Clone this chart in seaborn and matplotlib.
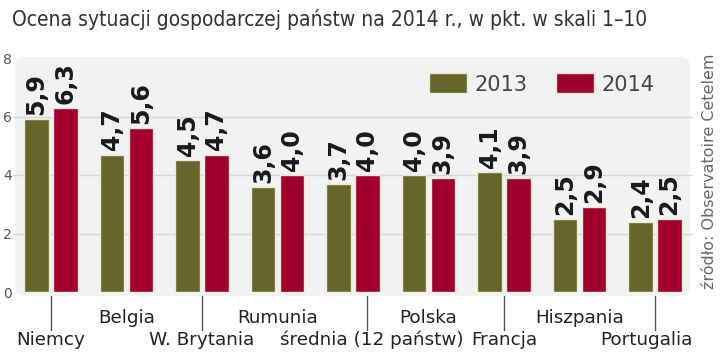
import pandas as pd
import matplotlib.pyplot as plt
import matplotlib.transforms as mtransforms
from matplotlib.patches import FancyBboxPatch
import seaborn as sns

categories = ['Niemcy', 'Belgia', 'W. Brytania', 'Rumunia', 'średnia (12 państw)',
              'Polska', 'Francja', 'Hiszpania', 'Portugalia']
years = ['2013', '2014']
v2013 = [5.9, 4.7, 4.5, 3.6, 3.7, 4.0, 4.1, 2.5, 2.4]
v2014 = [6.3, 5.6, 4.7, 4.0, 4.0, 3.9, 3.9, 2.9, 2.5]
y_ticks = [0, 2, 4, 6, 8]

title = 'Ocena sytuacji gospodarczej państw na 2014 r., w pkt. w skali 1–10'
source = 'źródło: Observatoire Cetelem'

olive = '#67662a'
crimson = '#a1002d'

df = pd.DataFrame({
    'kraj': categories * 2,
    'rok': [years[0]] * len(categories) + [years[1]] * len(categories),
    'ocena': v2013 + v2014,
})

sns.set_style('white')
plt.rcParams['font.family'] = ['DejaVu Sans']

fig = plt.figure(figsize=(7.2, 3.53), dpi=100)
W, H = 720, 353

# light grey panel behind the plot
panel = FancyBboxPatch((15, H - 296), 675, 239, boxstyle='round,pad=0,rounding_size=10',
                       transform=None, facecolor='#f2f2f2', edgecolor='none', zorder=-5)
fig.patches.append(panel)

ax = fig.add_axes([13.25 / W, (H - 292) / H, 679.5 / W, 234 / H])
ax.set_facecolor('none')
ax.set_zorder(2)

sns.barplot(data=df, x='kraj', y='ocena', hue='rok', palette=[olive, crimson],
            saturation=1, width=0.76, gap=0.14, edgecolor='#ece8d6', linewidth=1,
            ax=ax, zorder=3)

ax.set_xlim(-0.5, len(categories) - 0.5)
ax.set_ylim(0, 8)
ax.set_yticks(y_ticks)
ax.set_yticklabels([str(t) for t in y_ticks], fontsize=10, color='#555555')
ax.tick_params(axis='y', length=0, pad=1)
ax.set_xticks([])
ax.set_xlabel('')
ax.set_ylabel('')
for t in y_ticks[1:-1]:
    ax.axhline(t, color='#d6d6d6', lw=1, zorder=1)
sns.despine(ax=ax, left=True, bottom=True)

for cont in ax.containers:
    vals = [b.get_height() for b in cont]
    ax.bar_label(cont, labels=[f'{v:.1f}'.replace('.', ',') for v in vals],
                 rotation=90, padding=3, fontsize=17, fontweight='bold', color='#1a1a1a')

# staggered category labels (lower ones get a leader line)
label_shift = {4: 0.25, 8: -0.12}
line_shift = {4: 0.19}
blend = mtransforms.blended_transform_factory(ax.transData, fig.transFigure)
for i, name in enumerate(categories):
    if i % 2 == 0:
        lx = i + line_shift.get(i, 0)
        ax.plot([lx, lx], [1 - 296 / H, 1 - 330 / H], color='#555555', lw=1,
                transform=blend, clip_on=False)
        ax.text(i + label_shift.get(i, 0), 1 - 340 / H, name, transform=blend,
                ha='center', va='center', fontsize=13.2, color='#222222')
    else:
        ax.text(i + label_shift.get(i, 0), 1 - 318 / H, name, transform=blend,
                ha='center', va='center', fontsize=13.2, color='#222222')

handles, labels = ax.get_legend_handles_labels()
ax.legend(handles, labels, loc='center', bbox_to_anchor=(542 / W, 1 - 84 / H),
          bbox_transform=fig.transFigure, ncol=2, frameon=False, fontsize=15,
          handlelength=1.8, handleheight=1.1, handletextpad=0.4, columnspacing=1.35,
          labelcolor='#444444')

fig.text(12 / W, 1 - 20 / H, title, ha='left', va='center', fontsize=15,
         fontstretch='condensed', color='#333333')
fig.text(710 / W, 1 - 171 / H, source, rotation=90, ha='center', va='center',
         fontsize=11.5, color='#666666')

fig.savefig('out.png', dpi=100)
